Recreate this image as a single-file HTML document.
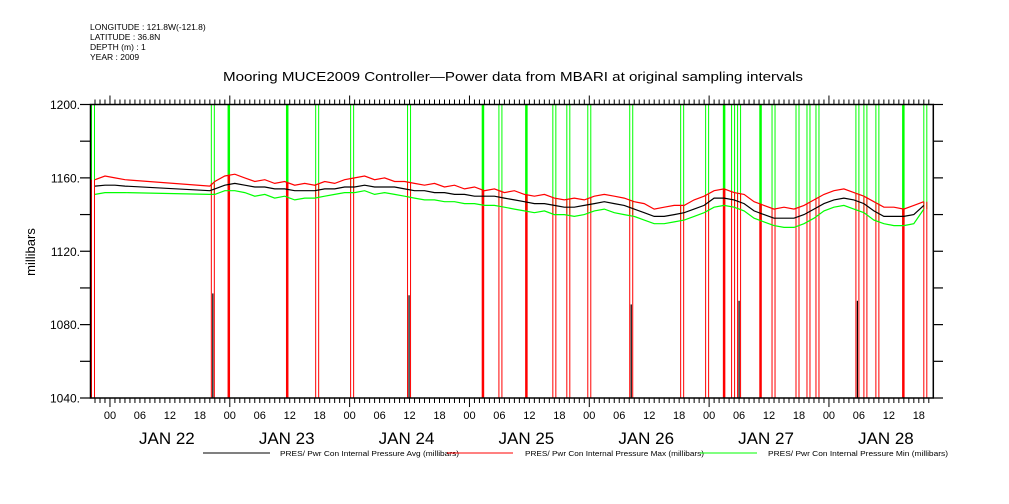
<!DOCTYPE html>
<html><head><meta charset="utf-8"><style>
html,body{margin:0;padding:0;background:#fff;}
svg{display:block;font-family:"Liberation Sans",sans-serif;}
</style></head><body>
<svg id="chart" width="1009" height="504" viewBox="0 0 1009 504">
<rect x="0" y="0" width="1009" height="504" fill="#fff"/>
<g font-size="8.5" fill="#000">
<text x="90" y="30">LONGITUDE : 121.8W(-121.8)</text>
<text x="90" y="40">LATITUDE : 36.8N</text>
<text x="90" y="50">DEPTH (m) : 1</text>
<text x="90" y="60">YEAR : 2009</text>
</g>
<text x="223" y="81" font-size="13" textLength="580" lengthAdjust="spacingAndGlyphs">Mooring MUCE2009 Controller—Power data from MBARI at original sampling intervals</text>
<text transform="translate(35,252) rotate(-90)" text-anchor="middle" font-size="13">millibars</text>
<g id="spikes"></g>
<g id="series"></g>
<g id="axes"></g>
<g font-size="7.5">
<line x1="203" y1="453" x2="270" y2="453" stroke="#000" stroke-width="1"/>
<text x="280" y="456" textLength="179" lengthAdjust="spacingAndGlyphs">PRES/ Pwr Con Internal Pressure Avg (millibars)</text>
<line x1="447" y1="453" x2="513" y2="453" stroke="#f00" stroke-width="1"/>
<text x="525" y="456" textLength="179" lengthAdjust="spacingAndGlyphs">PRES/ Pwr Con Internal Pressure Max (millibars)</text>
<line x1="700" y1="453" x2="757" y2="453" stroke="#0f0" stroke-width="1"/>
<text x="768" y="456" textLength="180" lengthAdjust="spacingAndGlyphs">PRES/ Pwr Con Internal Pressure Min (millibars)</text>
</g>
</svg>
<script>
const hours = [-3,-1,1,3,20].concat(Array.from({length:72},(_,i)=>21+2*i));
const avgValues = [1155.5,1156,1156,1155.5,1153,
1154,1156,1157,1156,1155,1155,1154,1154,1153,1153,
1153,1154,1154,1155,1155,1156,1155,1155,1155,1154,
1153,1153,1152,1152,1151,1151,1150,1150,1150,1149,
1148,1147,1146,1146,1145,1144,1144,1145,1146,1147,
1146,1145,1143,1141,1139,1139,1140,1141,1143,1145,
1149,1149,1148,1146,1142,1140,1138,1138,1138,1140,
1143,1146,1148,1149,1148,1146,1142,1139,1139,1139,1140,1145];
const maxValues = [1159,1161,1160,1159,1155.5,
1158,1161,1162,1160,1158,1159,1157,1158,1156,1157,
1156,1158,1157,1159,1160,1161,1159,1160,1158,1158,
1157,1156,1157,1155,1156,1154,1155,1153,1154,1152,
1153,1151,1150,1151,1149,1148,1149,1148,1150,1151,
1150,1149,1147,1146,1143,1144,1145,1145,1148,1150,
1153,1154,1152,1151,1147,1145,1143,1144,1143,1145,
1148,1151,1153,1154,1152,1150,1147,1144,1144,1143,1145,1147];
const minValues = [1151,1152,1152,1152,1151,
1151,1153,1153,1152,1150,1151,1149,1150,1148,1149,
1149,1150,1151,1152,1152,1153,1151,1152,1151,1150,
1149,1148,1148,1147,1147,1146,1146,1145,1145,1144,
1143,1142,1141,1142,1140,1140,1139,1140,1142,1143,
1141,1140,1139,1137,1135,1135,1136,1137,1139,1141,
1144,1145,1144,1142,1138,1136,1134,1133,1133,1135,
1138,1142,1144,1145,1143,1141,1137,1135,1134,1134,1135,1143];
const spikeHours = [-3.4,20.6,23.8,35.5,41.5,48.5,59.9,74.7,78.2,83.4,89.0,91.8,96.0,104.4,114.6,119.6,123.0,124.8,126.0,130.3,132.9,137.7,139.9,141.7,149.7,151.3,153.7,158.9,163.3];
const spikeThick = [0,0,1,1,0,0,0,1,0,1,0,0,0,0,0,0,1,0,0,1,0,0,0,0,0,0,0,1,0];
const spikeAvgLow = [null,1097,null,null,null,null,1096,null,null,null,null,null,null,1091,null,null,null,null,1093,null,null,null,null,null,1093,null,null,null,null];
const yTicks = [1040,1080,1120,1160,1200];
const dayLabels = ['JAN 22','JAN 23','JAN 24','JAN 25','JAN 26','JAN 27','JAN 28'];
const hourLabels = ['00','06','12','18'];

const X0=90.5, X1=933.3, Y0=104.5, Y1=398;
const H0=-3.9, H1=164.9, V0=1040, V1=1200;
const xs = h => X0 + (h-H0)/(H1-H0)*(X1-X0);
const ys = v => Y1 - (v-V0)/(V1-V0)*(Y1-Y0);
const NS='http://www.w3.org/2000/svg';
function mk(tag, attrs, parent){const e=document.createElementNS(NS,tag);for(const k in attrs)e.setAttribute(k,attrs[k]);parent.appendChild(e);return e;}
function interp(arr,h){
  if(h<=hours[0])return arr[0];
  for(let i=1;i<hours.length;i++){if(h<=hours[i]){const t=(h-hours[i-1])/(hours[i]-hours[i-1]);return arr[i-1]+t*(arr[i]-arr[i-1]);}}
  return arr[arr.length-1];
}
const gS=document.getElementById('spikes');
spikeHours.forEach((h,i)=>{
  const x=xs(h);
  const ymin=ys(interp(minValues,h)), ymax=ys(interp(maxValues,h));
  const offs = spikeThick[i] ? [0] : [-1.5,1.5];
  const w = spikeThick[i] ? 2.5 : 1;
  offs.forEach(o=>{
    const g=mk('line',{x1:x+o,x2:x+o,y1:Y0,y2:ymin,stroke:'#0f0','stroke-width':w},gS);
    
    
    const r=mk('line',{x1:x+o,x2:x+o,y1:ymax,y2:Y1,stroke:'#f00','stroke-width':w},gS);
    
    
  });
  if(spikeAvgLow[i]!==null){
    const b=mk('line',{x1:x,x2:x,y1:ys(spikeAvgLow[i]),y2:Y1,stroke:'#000','stroke-width':1.2},gS);
    
    
  }
});
const gL=document.getElementById('series');
[[maxValues,'#f00','max-pressure-line'],[minValues,'#0f0','min-pressure-line'],[avgValues,'#000','avg-pressure-line']].forEach(s=>{
  const pts=hours.map((h,i)=>xs(h).toFixed(1)+','+ys(s[0][i]).toFixed(1)).join(' ');
  const p=mk('polyline',{points:pts,fill:'none',stroke:s[1],'stroke-width':1.2},gL);
  
  
});
const gA=document.getElementById('axes');
const fr=mk('rect',{x:X0,y:Y0,width:X1-X0,height:Y1-Y0,fill:'none',stroke:'#000','stroke-width':1.5},gA);


for(let v=V0; v<=V1; v+=20){
  const y=ys(v);
  const t=mk('line',{x1:80,x2:X0,y1:y,y2:y,stroke:'#000','stroke-width':1.2},gA);
  
  
  const t2=mk('line',{x1:X1,x2:943,y1:y,y2:y,stroke:'#000','stroke-width':1.2},gA);
  
  
}
yTicks.forEach(v=>{
  const t=mk('text',{x:80,y:ys(v)+4.5,'text-anchor':'end','font-size':12},gA);
  t.textContent=v+'.';
  
  
});
for(let h=Math.ceil(H0); h<=H1; h++){
  const x=xs(h); const major=((h%24)+24)%24===0;
  const a=mk('line',{x1:x,x2:x,y1:Y0,y2:Y0-(major?9:5),stroke:'#000','stroke-width':1},gA);
  
  
  const b=mk('line',{x1:x,x2:x,y1:Y1,y2:Y1+(major?9:5),stroke:'#000','stroke-width':1},gA);
  
  
  if(h%6===0){
    const t=mk('text',{x:x,y:Y1+21,'text-anchor':'middle','font-size':11},gA);
    t.textContent=hourLabels[((h%24)+24)%24/6];
    
    
  }
}
dayLabels.forEach((d,i)=>{
  const t=mk('text',{x:xs(i*24+12)-3,y:Y1+46,'text-anchor':'middle','font-size':17},gA);
  t.textContent=d;
  
  
});
</script>
</body></html>
